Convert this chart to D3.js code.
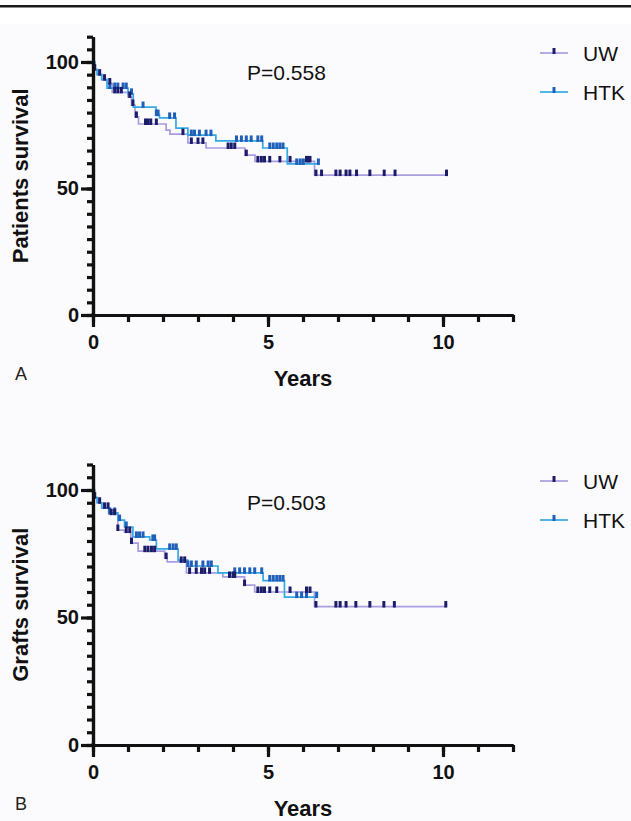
<!DOCTYPE html>
<html>
<head>
<meta charset="utf-8">
<script src="https://cdn.jsdelivr.net/npm/d3@7"></script>
<style>
  html, body { margin: 0; padding: 0; background: #fff; }
  svg { display: block; font-family: "Liberation Sans", Arial, Helvetica, sans-serif; }
</style>
</head>
<body>
<svg id="chart" width="631" height="821"></svg>
<script>
// //////// DATA

const groups = ["UW", "HTK"];
const pValues = ["P=0.558", "P=0.503"];
const yTitles = ["Patients survival", "Grafts survival"];
const panelLetters = ["A", "B"];
const xTicksMajor = [0, 5, 10];
const yTicksMajor = [0, 50, 100];

// Panel A - patients
const aUwTime = [0, 0.05, 0.12, 0.25, 0.4, 0.55, 1.0, 1.1, 1.2, 1.3, 2.09, 2.2, 2.71, 3.23, 4.34, 4.63, 6.33, 10.1];
const aUwSurv = [100, 97, 95, 93, 91.5, 88, 86.2, 83, 78.3, 75.5, 73.1, 71.5, 68, 66, 63.2, 60.7, 55.3, 55.3];
const aUwCens = [0.05, 0.19, 0.33, 0.48, 0.62, 0.71, 0.81, 1.05, 1.14, 1.24, 1.5, 1.57, 1.65, 1.81, 2.57, 2.81, 3.0, 3.14,
  3.86, 3.95, 4.05, 4.38, 4.71, 4.81, 4.9, 5.05, 5.34, 5.63, 6.1, 6.15, 6.2, 6.37, 6.53, 6.94, 7.06, 7.23, 7.34, 7.53,
  7.91, 8.32, 8.63, 10.1];
const aHtkTime = [0, 0.05, 0.12, 0.25, 0.4, 1.0, 1.15, 1.8, 1.9, 2.37, 2.71, 3.51, 4.85, 5.55, 6.44];
const aHtkSurv = [100, 97, 95, 93, 89.7, 87.4, 82.2, 79, 77.9, 73.9, 71.1, 68.8, 66, 59.7, 59.7];
const aHtkCens = [0.48, 0.62, 0.71, 0.86, 0.95, 1.1, 1.43, 1.81, 1.86, 2.19, 2.33, 2.81, 2.9, 3.04, 3.23, 3.37, 4.1, 4.24,
  4.38, 4.52, 4.71, 4.82, 5.05, 5.15, 5.25, 5.34, 5.43, 5.82, 5.92, 6.01, 6.44];

// Panel B - grafts
const bUwTime = [0, 0.05, 0.12, 0.25, 0.45, 0.71, 0.9, 1.08, 1.29, 2.05, 2.12, 2.67, 3.71, 4.33, 4.62, 6.33, 10.08];
const bUwSurv = [100, 97, 95, 93, 90.5, 84.3, 83.5, 79.2, 76, 73.3, 71.8, 67.5, 65.9, 62.7, 60, 54.3, 54.3];
const bUwCens = [0.05, 0.19, 0.33, 0.43, 0.52, 0.62, 0.71, 0.95, 1.05, 1.1, 1.48, 1.57, 1.67, 1.76, 2.09, 2.52, 2.62,
  2.76, 2.95, 3.1, 3.19, 3.33, 3.9, 4.0, 4.05, 4.33, 4.71, 4.81, 4.9, 5.05, 5.25, 5.63, 6.1, 6.2, 6.37, 6.94, 7.06,
  7.23, 7.51, 7.91, 8.31, 8.61, 10.08];
const bHtkTime = [0, 0.04, 0.12, 0.25, 0.45, 0.71, 0.9, 1.14, 1.62, 1.81, 2.43, 2.71, 3.57, 4.86, 5.47, 6.39];
const bHtkSurv = [100, 97, 95, 93, 91, 88.2, 85.5, 81.6, 80.4, 76.9, 72.5, 70.2, 67.5, 64.5, 58, 58];
const bHtkCens = [0.48, 0.62, 0.76, 0.95, 1.24, 1.33, 1.43, 1.71, 1.76, 2.19, 2.29, 2.38, 2.71, 2.81, 2.95, 3.14, 3.29,
  3.38, 4.05, 4.19, 4.33, 4.48, 4.62, 4.82, 5.05, 5.15, 5.25, 5.34, 5.43, 5.82, 5.96, 6.1, 6.39];

// //////// STYLE / LAYOUT

const lineColor = { UW: "#a99de0", HTK: "#34a9e6" };
const markColor = { UW: "#1c1d6a", HTK: "#2160b8" };

const layout = [
  { y0: 315, y100: 62, pY: 80, legY: [53, 92], lettY: 380, yearsY: 386 },
  { y0: 745, y100: 490, pY: 510, legY: [481, 520], lettY: 810, yearsY: 816 },
];

const series = [
  {
    UW: { time: aUwTime, surv: aUwSurv, cens: aUwCens },
    HTK: { time: aHtkTime, surv: aHtkSurv, cens: aHtkCens },
  },
  {
    UW: { time: bUwTime, surv: bUwSurv, cens: bUwCens },
    HTK: { time: bHtkTime, surv: bHtkSurv, cens: bHtkCens },
  },
];

// //////// FUNCTIONS

const svg = d3.select("#chart");

// faint grey figure background + rule at top
svg.append("rect").attr("x", 0).attr("y", 24).attr("width", 631).attr("height", 797).attr("fill", "#fbfbfd");
svg.append("rect").attr("x", 0).attr("y", 5).attr("width", 631).attr("height", 2.5).attr("fill", "#1a1a1a");

// survival value at time t from a step curve
function survAt(d, t) {
  let v = d.surv[0];
  d.time.forEach((tt, i) => {
    if (tt <= t + 1e-9) v = d.surv[i];
  });
  return v;
}

function drawPanel(i) {
  const L = layout[i];
  const x = d3.scaleLinear().domain([0, 12]).range([93, 513]);
  const unit = (L.y0 - L.y100) / 100;
  const y = d3.scaleLinear().domain([0, 110]).range([L.y0, L.y0 - 110 * unit]);

  const g = svg.append("g");

  // curves
  const line = d3
    .line()
    .x((d) => x(d[0]))
    .y((d) => y(d[1]))
    .curve(d3.curveStepAfter);

  groups.forEach((name) => {
    const d = series[i][name];
    const pts = d.time.map((t, k) => [t, d.surv[k]]);
    g.append("path")
      .attr("d", line(pts))
      .attr("fill", "none")
      .attr("stroke", lineColor[name])
      .attr("stroke-width", 1.7);
  });

  // censor marks
  ["HTK", "UW"].forEach((name) => {
    const d = series[i][name];
    g.append("g")
      .selectAll("line")
      .data(d.cens)
      .join("line")
      .attr("x1", (t) => x(t))
      .attr("x2", (t) => x(t))
      .attr("y1", (t) => y(survAt(d, t)) - 5.5)
      .attr("y2", (t) => y(survAt(d, t)) + 1)
      .attr("stroke", markColor[name])
      .attr("stroke-width", 3);
  });

  // y axis: minor ticks then majors with labels
  const yMinor = g.append("g").attr("transform", "translate(93,0)")
    .call(d3.axisLeft(y).tickValues(d3.range(0, 111, 5)).tickSize(6).tickSizeOuter(0).tickFormat(""));
  const yMajor = g.append("g").attr("transform", "translate(93,0)")
    .call(d3.axisLeft(y).tickValues(yTicksMajor).tickSize(12).tickSizeOuter(0).tickPadding(2));

  const xMinor = g.append("g").attr("transform", `translate(0,${L.y0})`)
    .call(d3.axisBottom(x).tickValues(d3.range(0, 13, 1)).tickSize(7).tickSizeOuter(0).tickFormat(""));
  const xMajor = g.append("g").attr("transform", `translate(0,${L.y0})`)
    .call(d3.axisBottom(x).tickValues(xTicksMajor).tickSize(12).tickSizeOuter(0).tickPadding(8));

  [yMinor, yMajor, xMinor, xMajor].forEach((ax) => {
    ax.selectAll("path, line").attr("stroke", "#111").attr("stroke-width", 3.2);
    ax.selectAll("text")
      .attr("fill", "#111")
      .attr("font-size", 20)
      .attr("font-weight", "bold")
      .attr("font-family", "'Liberation Sans', Arial, sans-serif");
  });
  // square off the corner where the axes meet
  g.append("rect").attr("x", 91.4).attr("y", L.y0 - 1.6).attr("width", 3.2).attr("height", 3.2).attr("fill", "#111");

  // titles
  g.append("text")
    .attr("transform", `translate(28,${(y(0) + y(110)) / 2}) rotate(-90)`)
    .attr("text-anchor", "middle")
    .attr("font-size", 22)
    .attr("font-weight", "bold")
    .attr("fill", "#111")
    .text(yTitles[i]);

  g.append("text")
    .attr("x", 303)
    .attr("y", L.yearsY)
    .attr("text-anchor", "middle")
    .attr("font-size", 22)
    .attr("font-weight", "bold")
    .attr("fill", "#111")
    .text("Years");

  g.append("text")
    .attr("x", 15)
    .attr("y", L.lettY)
    .attr("font-size", 18)
    .attr("fill", "#222")
    .text(panelLetters[i]);

  g.append("text")
    .attr("x", 247)
    .attr("y", L.pY)
    .attr("font-size", 21)
    .attr("fill", "#111")
    .text(pValues[i]);

  // legend
  groups.forEach((name, k) => {
    const ly = L.legY[k];
    g.append("line")
      .attr("x1", 540).attr("x2", 568).attr("y1", ly).attr("y2", ly)
      .attr("stroke", lineColor[name]).attr("stroke-width", 1.7);
    g.append("line")
      .attr("x1", 554).attr("x2", 554).attr("y1", ly - 5).attr("y2", ly + 1)
      .attr("stroke", markColor[name]).attr("stroke-width", 3);
    g.append("text")
      .attr("x", 583)
      .attr("y", ly + 8)
      .attr("font-size", 21)
      .attr("fill", "#111")
      .text(name);
  });
}

drawPanel(0);
drawPanel(1);
</script>
</body>
</html>
